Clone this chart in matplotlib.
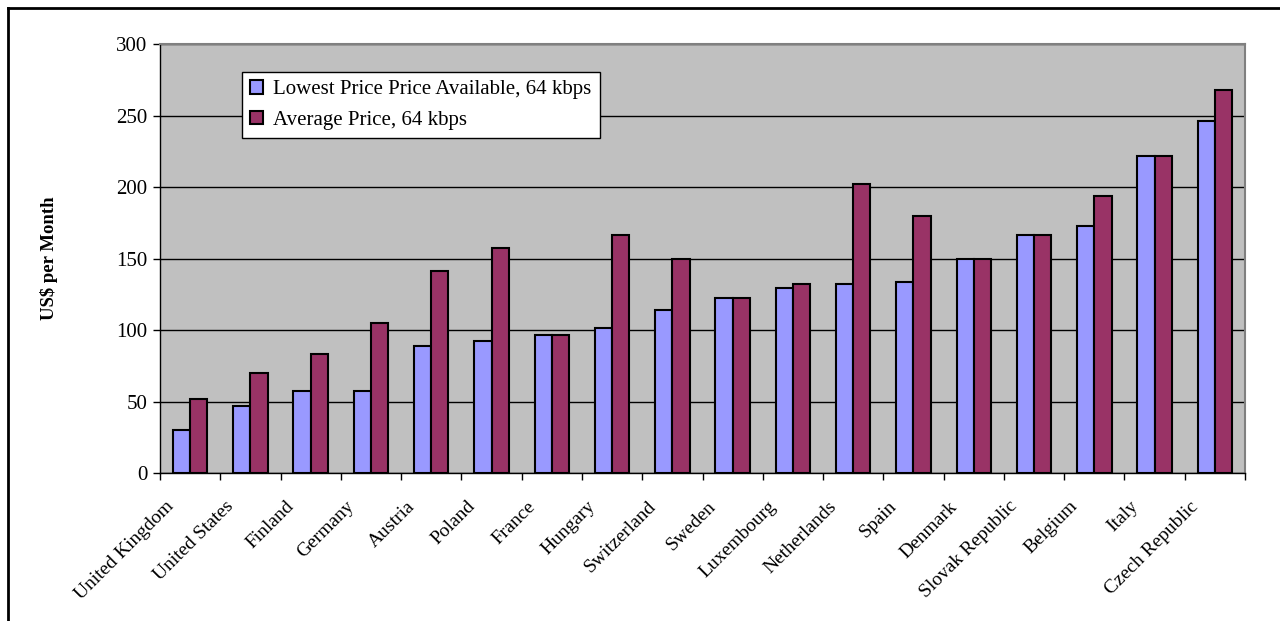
import numpy as np
import matplotlib
matplotlib.use("Agg")
import matplotlib.pyplot as plt
import matplotlib.transforms as mtransforms
from matplotlib.lines import Line2D

countries = ["United Kingdom", "United States", "Finland", "Germany", "Austria",
             "Poland", "France", "Hungary", "Switzerland", "Sweden", "Luxembourg",
             "Netherlands", "Spain", "Denmark", "Slovak Republic", "Belgium",
             "Italy", "Czech Republic"]
lowest = [30, 47, 57, 57, 89, 92, 96.5, 101.5, 114, 122.5, 129.5, 132, 133.5,
          149.5, 166.5, 172.5, 221.5, 246]
average = [52, 70, 83, 105, 141, 157.5, 96.5, 166.5, 149.5, 122.5, 132, 202,
           180, 149.5, 166.5, 193.5, 221.5, 268]
yticks = [0, 50, 100, 150, 200, 250, 300]

plt.rcParams['font.family'] = ['Liberation Serif', 'DejaVu Serif']

fig = plt.figure(figsize=(12.8, 6.21), dpi=100)
ax = fig.add_axes([160/1280, 1-473/621, 1085/1280, 429/621])
ax.set_facecolor('#C0C0C0')

x = np.arange(len(countries))
w = 0.286
ax.bar(x - w/2, lowest, w, color='#9999FF', edgecolor='black', linewidth=1.5,
       label='Lowest Price Price Available, 64 kbps', zorder=3)
ax.bar(x + w/2, average, w, color='#993366', edgecolor='black', linewidth=1.5,
       label='Average Price, 64 kbps', zorder=3)

ax.set_xlim(-0.5, len(countries) - 0.5)
ax.set_ylim(0, 300)
ax.set_yticks(yticks)
ax.yaxis.grid(True, color='black', linewidth=1, zorder=1)
ax.tick_params(axis='y', labelsize=15, direction='out', length=5, width=1, pad=4)

# category labels under bars, ticks on category boundaries
ax.set_xticks(x)
ax.set_xticklabels(countries, rotation=45, ha='right', va='top',
                   rotation_mode='anchor', fontsize=14)
ax.tick_params(axis='x', which='major', length=0, pad=10)
shift = mtransforms.ScaledTranslation(-25/100, -11/100, fig.dpi_scale_trans)
for lab in ax.get_xticklabels():
    lab.set_transform(lab.get_transform() + shift)
ax.set_xticks(np.arange(-0.5, len(countries)), minor=True)
ax.tick_params(axis='x', which='minor', direction='out', length=5, width=1)

for s in ['top', 'right']:
    ax.spines[s].set_color('#808080')
    ax.spines[s].set_linewidth(1.5)
for s in ['left', 'bottom']:
    ax.spines[s].set_color('black')
    ax.spines[s].set_linewidth(1)

ax.set_ylabel('US$ per Month', fontsize=13.5, fontweight='bold', labelpad=42)

leg = ax.legend(loc='upper left', bbox_to_anchor=(82/1085, 1-28/429), fontsize=15,
                frameon=True, fancybox=False, edgecolor='black', facecolor='white',
                framealpha=1, handlelength=0.6, handleheight=0.6, handletextpad=0.5,
                borderpad=0.4, labelspacing=0.55, borderaxespad=0)
leg.get_frame().set_linewidth(1)

# outer chart frame
fig.add_artist(Line2D([8/1280, 1], [1-8/621, 1-8/621], color='black', linewidth=2,
                      transform=fig.transFigure))
fig.add_artist(Line2D([8/1280, 8/1280], [0, 1-8/621], color='black', linewidth=2,
                      transform=fig.transFigure))

fig.savefig('out.png', dpi=100)
